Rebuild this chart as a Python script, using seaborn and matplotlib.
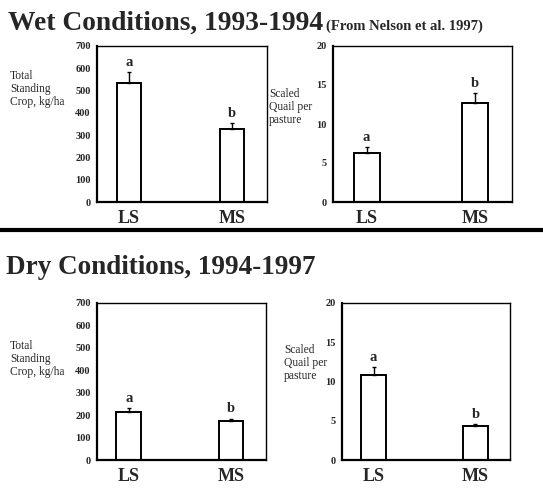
import matplotlib
matplotlib.use("Agg")
import matplotlib.pyplot as plt
import seaborn as sns
import pandas as pd

sns.set_theme(style="white")
plt.rcParams['font.family'] = ['Liberation Serif', 'DejaVu Serif']

treatments = ["LS", "MS"]
wet_crop = [535, 327]
wet_crop_err = [50, 27]
wet_quail = [6.3, 12.7]
wet_quail_err = [0.7, 1.3]
dry_crop = [215, 175]
dry_crop_err = [15, 10]
dry_quail = [10.8, 4.3]
dry_quail_err = [1.0, 0.3]
letters_wet_crop = ["a", "b"]
letters_wet_quail = ["a", "b"]
letters_dry_crop = ["a", "b"]
letters_dry_quail = ["a", "b"]
crop_ticks = [0, 100, 200, 300, 400, 500, 600, 700]
quail_ticks = [0, 5, 10, 15, 20]

W, H = 543, 488
fig = plt.figure(figsize=(W / 100, H / 100), dpi=100)


def px_axes(left, top, right, bottom):
    return fig.add_axes([left / W, 1 - bottom / H, (right - left) / W, (bottom - top) / H])


def panel(ax, vals, errs, letters, ticks, ylabel, lab_x, lab_y):
    df = pd.DataFrame({"trt": treatments, "val": vals})
    sns.barplot(data=df, x="trt", y="val", ax=ax, color="white", edgecolor="black",
                linewidth=1.4, width=0.24, errorbar=None)
    ax.errorbar([0, 1], vals, yerr=[[0, 0], errs], fmt="none", ecolor="black",
                elinewidth=1.0, capsize=1.5, capthick=1.0)
    top = ticks[-1]
    for i, (v, e, l) in enumerate(zip(vals, errs, letters)):
        ax.text(i, v + e + top * 0.02, l, ha="center", va="bottom", fontsize=10.5,
                fontweight="bold")
    ax.set_xlim(-0.31, 1.34)
    ax.set_ylim(0, top)
    ax.set_yticks(ticks)
    ax.set_yticklabels([str(t) for t in ticks], fontsize=7.5, fontweight="bold")
    ax.set_xticks([0, 1])
    ax.set_xticklabels(treatments, fontsize=13, fontweight="bold")
    ax.set_xlabel("")
    ax.set_ylabel("")
    ax.tick_params(axis="y", direction="out", length=2.5, width=1, color="black", pad=2)
    ax.tick_params(axis="x", length=0, pad=6)
    for s in ax.spines.values():
        s.set_color("black")
        s.set_linewidth(1.0)
    ax.spines["left"].set_linewidth(1.6)
    ax.spines["bottom"].set_linewidth(1.6)
    fig.text(lab_x / W, 1 - lab_y / H, ylabel, ha="left", va="center", fontsize=8.3,
             linespacing=1.1)


ax1 = px_axes(97, 46, 267, 202)
panel(ax1, wet_crop, wet_crop_err, letters_wet_crop, crop_ticks,
      "Total\nStanding\nCrop, kg/ha", 10, 89)
ax2 = px_axes(333, 46, 512, 202)
panel(ax2, wet_quail, wet_quail_err, letters_wet_quail, quail_ticks,
      "Scaled\nQuail per\npasture", 269, 107)
ax3 = px_axes(97, 303, 266, 460)
panel(ax3, dry_crop, dry_crop_err, letters_dry_crop, crop_ticks,
      "Total\nStanding\nCrop, kg/ha", 10, 359)
ax4 = px_axes(342, 303, 510, 460)
panel(ax4, dry_quail, dry_quail_err, letters_dry_quail, quail_ticks,
      "Scaled\nQuail per\npasture", 284, 363)

fig.text(8 / W, 1 - 30 / H, "Wet Conditions, 1993-1994", fontsize=19.8,
         fontweight="bold", ha="left", va="baseline")
fig.text(326 / W, 1 - 30 / H, "(From Nelson et al. 1997)", fontsize=10.5,
         fontweight="bold", ha="left", va="baseline")
fig.text(6 / W, 1 - 274 / H, "Dry Conditions, 1994-1997", fontsize=19.5,
         fontweight="bold", ha="left", va="baseline")
fig.add_artist(plt.Line2D([0, 1], [1 - 230 / H, 1 - 230 / H], color="black",
                          linewidth=3, transform=fig.transFigure))

fig.savefig("out.png", dpi=100, facecolor="white")
